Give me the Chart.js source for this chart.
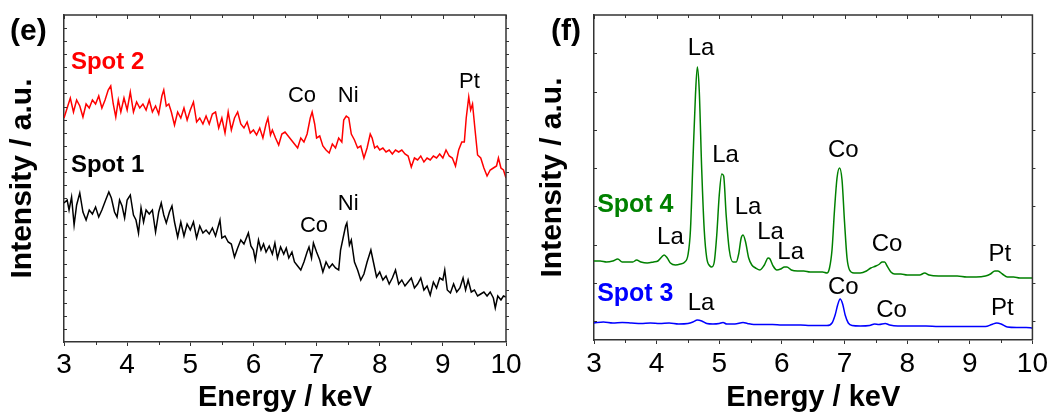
<!DOCTYPE html>
<html><head><meta charset="utf-8">
<script src="https://cdn.jsdelivr.net/npm/chart.js@4.4.1/dist/chart.umd.min.js"></script>
<style>
html,body{margin:0;padding:0;background:#fff;}
#wrap{position:relative;width:1054px;height:417px;overflow:hidden;}
canvas{position:absolute;top:0;}
.panel{position:absolute;font:bold 30px 'Liberation Sans',Arial,sans-serif;line-height:30px;color:#000;}
</style></head><body>
<div id="wrap">
<canvas id="c1" width="527" height="417" style="left:0"></canvas>
<canvas id="c2" width="527" height="417" style="left:527px"></canvas>
<div class="panel" style="left:10px;top:15px">(e)</div>
<div class="panel" style="left:551px;top:15px">(f)</div>
</div>
<script>
// ---------- Panel (e) ----------
const spot2Energy = [
3.00,3.05,3.10,3.15,3.20,3.25,3.30,3.35,3.40,3.45,
3.50,3.55,3.60,3.65,3.70,3.74,3.78,3.82,3.86,3.90,
3.95,4.00,4.05,4.10,4.15,4.20,4.25,4.30,4.35,4.40,
4.45,4.50,4.55,4.58,4.62,4.66,4.70,4.75,4.80,4.85,
4.90,4.95,5.00,5.05,5.10,5.15,5.20,5.25,5.30,5.35,
5.40,5.45,5.50,5.55,5.60,5.65,5.70,5.75,5.80,5.85,
5.90,5.95,6.00,6.05,6.10,6.15,6.20,6.23,6.27,6.30,
6.35,6.40,6.45,6.50,6.55,6.60,6.65,6.70,6.75,6.80,
6.85,6.90,6.93,6.97,7.00,7.05,7.10,7.15,7.20,7.25,
7.30,7.35,7.40,7.43,7.47,7.51,7.55,7.60,7.65,7.70,
7.75,7.80,7.85,7.88,7.92,7.96,8.00,8.05,8.10,8.15,
8.20,8.25,8.30,8.35,8.40,8.45,8.50,8.55,8.60,8.65,
8.70,8.75,8.80,8.85,8.90,8.95,9.00,9.05,9.10,9.15,
9.20,9.25,9.30,9.34,9.37,9.41,9.44,9.47,9.51,9.55,
9.60,9.65,9.70,9.75,9.80,9.85,9.88,9.92,9.96,10.00];
const spot2Intensity = [
224,234,244,230,242,236,225,238,234,242,
238,246,234,242,252,256,238,225,242,230,
244,232,250,230,240,234,238,232,242,230,
236,228,246,252,236,238,230,217,230,224,
234,222,232,240,220,224,218,226,218,228,
230,214,224,209,230,212,224,230,218,214,
220,209,212,207,214,204,218,224,207,212,
204,197,208,210,206,202,198,194,204,200,
208,224,230,218,204,206,196,192,189,198,
194,204,200,222,226,224,208,202,194,196,
184,194,208,204,194,196,192,194,190,192,
188,192,190,192,188,186,175,184,182,186,
180,184,182,186,184,188,184,192,186,184,
176,192,200,200,224,245,232,238,212,187,
184,174,166,172,174,176,184,174,172,164];

const spot1Energy = [
3.00,3.05,3.08,3.12,3.16,3.20,3.25,3.30,3.35,3.40,
3.45,3.50,3.55,3.60,3.66,3.71,3.75,3.80,3.84,3.88,
3.92,3.96,4.00,4.05,4.10,4.14,4.18,4.22,4.26,4.30,
4.35,4.40,4.45,4.50,4.54,4.58,4.62,4.67,4.71,4.75,
4.80,4.85,4.90,4.95,5.00,5.05,5.10,5.15,5.20,5.25,
5.30,5.35,5.40,5.47,5.50,5.55,5.60,5.65,5.70,5.75,
5.80,5.85,5.92,5.96,6.00,6.03,6.08,6.12,6.16,6.20,
6.25,6.30,6.34,6.38,6.43,6.48,6.52,6.56,6.61,6.65,
6.70,6.75,6.80,6.85,6.88,6.92,6.95,7.00,7.05,7.10,
7.15,7.20,7.25,7.30,7.35,7.38,7.42,7.46,7.48,7.52,
7.55,7.60,7.65,7.70,7.75,7.80,7.86,7.90,7.95,8.00,
8.05,8.10,8.15,8.20,8.25,8.30,8.35,8.40,8.45,8.50,
8.55,8.60,8.65,8.70,8.75,8.80,8.85,8.90,8.95,9.00,
9.03,9.07,9.12,9.17,9.22,9.27,9.32,9.36,9.40,9.45,
9.50,9.55,9.60,9.65,9.70,9.75,9.80,9.83,9.87,9.92,
9.96,10.00];
const spot1Intensity = [
139,142,132,145,117,137,149,130,122,132,
128,135,125,132,142,150,144,130,125,142,
136,124,142,147,127,122,109,134,120,132,
128,132,110,130,139,127,119,130,136,120,
105,120,106,118,112,120,104,116,109,112,
108,114,106,122,104,106,100,98,85,94,
102,98,109,96,92,82,102,92,98,90,
96,88,99,84,95,88,94,84,90,80,
76,72,80,90,95,84,99,90,82,70,
80,74,78,74,72,92,104,116,119,97,
102,80,72,62,68,80,92,80,65,70,
62,66,58,64,72,58,62,56,60,64,
54,58,64,52,56,47,60,54,64,62,
72,52,49,58,50,54,64,52,62,50,
52,46,48,50,46,50,44,34,46,42,
46,45];

// ---------- Panel (f) ----------
const spot4Energy = [
3.00,3.10,3.20,3.30,3.38,3.45,3.55,3.62,3.68,3.75,
3.85,3.95,4.02,4.08,4.12,4.17,4.22,4.30,4.38,4.45,
4.50,4.54,4.58,4.62,4.65,4.68,4.72,4.76,4.80,4.85,
4.88,4.92,4.96,5.00,5.04,5.07,5.11,5.16,5.22,5.27,
5.31,5.35,5.38,5.42,5.47,5.52,5.58,5.65,5.72,5.78,
5.81,5.86,5.92,5.98,6.04,6.08,6.15,6.25,6.35,6.45,
6.55,6.65,6.72,6.76,6.80,6.84,6.88,6.92,6.96,7.00,
7.04,7.08,7.15,7.25,7.35,7.42,7.50,7.56,7.60,7.64,
7.68,7.74,7.80,7.90,8.00,8.10,8.20,8.28,8.35,8.50,
8.65,8.80,8.95,9.10,9.25,9.33,9.40,9.45,9.52,9.60,
9.70,9.80,9.90,10.00];
const spot4Intensity = [
60,60,59,60,62,59,59,59,61,59,
58,59,60,64,66,63,58,56,57,59,
66,91,161,226,254,231,151,91,63,55,
54,59,86,126,147,145,106,71,59,59,
67,83,86,79,63,56,53,51,56,63,
62,55,51,52,54,54,51,50,50,49,
49,49,48,53,71,111,143,153,141,99,
63,51,48,48,50,53,55,57,59,59,
55,49,47,47,46,46,46,48,46,45,
45,45,44,44,45,47,50,50,47,44,
44,43,43,43];

const spot3Energy = [
3.00,3.15,3.30,3.45,3.60,3.75,3.90,4.05,4.20,4.35,
4.50,4.58,4.65,4.72,4.80,4.90,5.00,5.06,5.12,5.25,
5.38,5.45,5.55,5.70,5.85,6.00,6.15,6.30,6.45,6.60,
6.72,6.80,6.85,6.89,6.93,6.97,7.01,7.06,7.12,7.25,
7.40,7.48,7.55,7.65,7.72,7.85,8.00,8.15,8.30,8.50,
8.70,8.90,9.10,9.25,9.35,9.43,9.50,9.60,9.75,9.90,
10.00];
const spot3Intensity = [
-2,-1,-2,-1.5,-2,-2.5,-2,-2.5,-2,-3,
-2.5,-1,1,0,-2.5,-3,-2.5,-1.5,-3,-3,
-1.5,-2.5,-3.5,-3.5,-3.5,-4,-4,-4,-4.5,-4.5,
-4.5,-2,6,16,22,17,6,-2,-4.5,-5,
-4.5,-3,-3.5,-2.5,-4,-5,-5,-5,-5,-5.5,
-5.5,-5.5,-5.5,-5.5,-3.5,-2,-3,-6,-6.5,-6.5,
-7];

const xTickValues = [3,4,5,6,7,8,9,10];

// Text annotations anchored in data units (energy, intensity)
const panelEAnnotations = [
  {text:'Spot 2', e:3.11, v:280, kind:'spot', color:'#ff0000'},
  {text:'Spot 1', e:3.11, v:177, kind:'spot', color:'#000000'},
  {text:'Co', e:6.77, v:246, kind:'peak'},
  {text:'Ni', e:7.50, v:246, kind:'peak'},
  {text:'Pt', e:9.42, v:260, kind:'peak'},
  {text:'Co', e:6.96, v:116, kind:'peak'},
  {text:'Ni', e:7.50, v:138, kind:'peak'}
];
const panelFAnnotations = [
  {text:'Spot 4', e:3.05, v:116, kind:'spot', color:'#008000'},
  {text:'Spot 3', e:3.05, v:27, kind:'spot', color:'#0000ff'},
  {text:'La', e:4.71, v:273, kind:'peak'},
  {text:'La', e:5.10, v:166, kind:'peak'},
  {text:'Co', e:6.98, v:171, kind:'peak'},
  {text:'La', e:5.46, v:114, kind:'peak'},
  {text:'La', e:4.22, v:84, kind:'peak'},
  {text:'La', e:5.82, v:89, kind:'peak'},
  {text:'La', e:6.14, v:69, kind:'peak'},
  {text:'Co', e:7.68, v:77, kind:'peak'},
  {text:'Pt', e:9.48, v:67, kind:'peak'},
  {text:'La', e:4.71, v:18, kind:'peak'},
  {text:'Co', e:6.98, v:34, kind:'peak'},
  {text:'Co', e:7.75, v:11, kind:'peak'},
  {text:'Pt', e:9.52, v:13, kind:'peak'}
];

const FONT = "'Liberation Sans', Arial, sans-serif";
const AXIS = '#333333';

function pts(xs, ys){ return xs.map((x,i)=>({x:x, y:ys[i]})); }

const framePlugin = {
  id: 'frame',
  afterDatasetsDraw(chart){
    const {ctx, chartArea:a, scales:{x,y}} = chart;
    ctx.save();
    ctx.strokeStyle = AXIS;
    ctx.lineWidth = 1.5;
    ctx.beginPath();
    ctx.moveTo(a.left, a.top); ctx.lineTo(a.right, a.top); ctx.lineTo(a.right, a.bottom);
    ctx.stroke();
    ctx.lineWidth = 1;
    ctx.beginPath();
    for (let k = 0; k <= (x.max - x.min) * 2; k++) {
      const e = x.min + k * 0.5;
      const px = Math.round(x.getPixelForValue(e)) + 0.5;
      const major = k % 2 === 0;
      ctx.moveTo(px, a.top); ctx.lineTo(px, a.top + (major ? 4 : 3));
      if (!major) { ctx.moveTo(px, a.bottom); ctx.lineTo(px, a.bottom + 3); }
    }
    y.ticks.forEach(t => {
      const py = Math.round(y.getPixelForValue(t.value)) + 0.5;
      if (py > a.bottom - 2 || py < a.top + 2) return;
      ctx.moveTo(a.left, py); ctx.lineTo(a.left + 3, py);
      ctx.moveTo(a.right, py); ctx.lineTo(a.right + 3, py);
    });
    ctx.stroke();
    ctx.restore();
  }
};

function textPlugin(items, peakSize, spotSize){
  return {
    id: 'peakText',
    afterDatasetsDraw(chart){
      const {ctx, scales:{x,y}} = chart;
      items.forEach(it => {
        ctx.save();
        if (it.kind === 'spot') {
          ctx.font = 'bold ' + spotSize + 'px ' + FONT;
          ctx.fillStyle = it.color;
          ctx.textAlign = 'left';
        } else {
          ctx.font = peakSize + 'px ' + FONT;
          ctx.fillStyle = '#000';
          ctx.textAlign = 'center';
        }
        ctx.textBaseline = 'middle';
        ctx.fillText(it.text, x.getPixelForValue(it.e), y.getPixelForValue(it.v));
        ctx.restore();
      });
    }
  };
}

function makeChart(id, datasets, cfg){
  return new Chart(document.getElementById(id), {
    type: 'line',
    data: { datasets: datasets },
    options: {
      responsive: false,
      animation: false,
      events: [],
      layout: { padding: { left: 0, right: cfg.padRight, top: 15, bottom: 0 } },
      plugins: { legend: { display: false }, tooltip: { enabled: false } },
      elements: { point: { radius: 0 } },
      scales: {
        x: {
          type: 'linear', min: 3, max: 10,
          afterFit: s => { s.height = cfg.xHeight; },
          afterBuildTicks: s => { s.ticks = xTickValues.map(v => ({value: v})); },
          ticks: { stepSize: 1, color: '#000', padding: cfg.tickPad,
                   font: { family: FONT, size: 28, lineHeight: 1 }, maxRotation: 0, autoSkip: false },
          grid: { drawOnChartArea: false, drawTicks: true, tickLength: 4, color: AXIS, lineWidth: 1 },
          border: { display: true, color: AXIS, width: 1.5 },
          title: { display: true, text: 'Energy / keV', color: '#000',
                   font: { family: FONT, size: 29, weight: 'bold', lineHeight: 1 },
                   padding: { top: 0, bottom: cfg.xTitlePad } }
        },
        y: {
          type: 'linear', min: cfg.yMin, max: cfg.yMax,
          afterFit: s => { s.width = cfg.yWidth; },
          ticks: { display: false, stepSize: cfg.yStep },
          grid: { display: false },
          border: { display: true, color: AXIS, width: 1.5 },
          title: { display: true, text: 'Intensity / a.u.', color: '#000',
                   font: { family: FONT, size: 30, weight: 'bold', lineHeight: 1 },
                   padding: { top: cfg.yTitlePad, bottom: 0 } }
        }
      }
    },
    plugins: [framePlugin, textPlugin(cfg.items, cfg.peakSize, cfg.spotSize)]
  });
}

makeChart('c1', [
  { label: 'Spot 2', data: pts(spot2Energy, spot2Intensity), borderColor: '#ff0000', borderWidth: 1.5, tension: 0, fill: false },
  { label: 'Spot 1', data: pts(spot1Energy, spot1Intensity), borderColor: '#000000', borderWidth: 1.5, tension: 0, fill: false }
], { padRight: 21, xHeight: 75, yWidth: 64, yMin: 0, yMax: 327, yStep: 13.08,
     tickPad: 5, xTitlePad: 4.5, yTitlePad: 8, items: panelEAnnotations, peakSize: 22, spotSize: 24 });

makeChart('c2', [
  { label: 'Spot 4', data: pts(spot4Energy, spot4Intensity), borderColor: '#008000', borderWidth: 1.5, cubicInterpolationMode: 'monotone', fill: false },
  { label: 'Spot 3', data: pts(spot3Energy, spot3Intensity), borderColor: '#0000ff', borderWidth: 1.5, cubicInterpolationMode: 'monotone', fill: false }
], { padRight: 19, xHeight: 77, yWidth: 67, yMin: -19, yMax: 306, yStep: 38.25,
     tickPad: 6, xTitlePad: 4.5, yTitlePad: 10.7, items: panelFAnnotations, peakSize: 24, spotSize: 25 });
</script>
</body></html>
